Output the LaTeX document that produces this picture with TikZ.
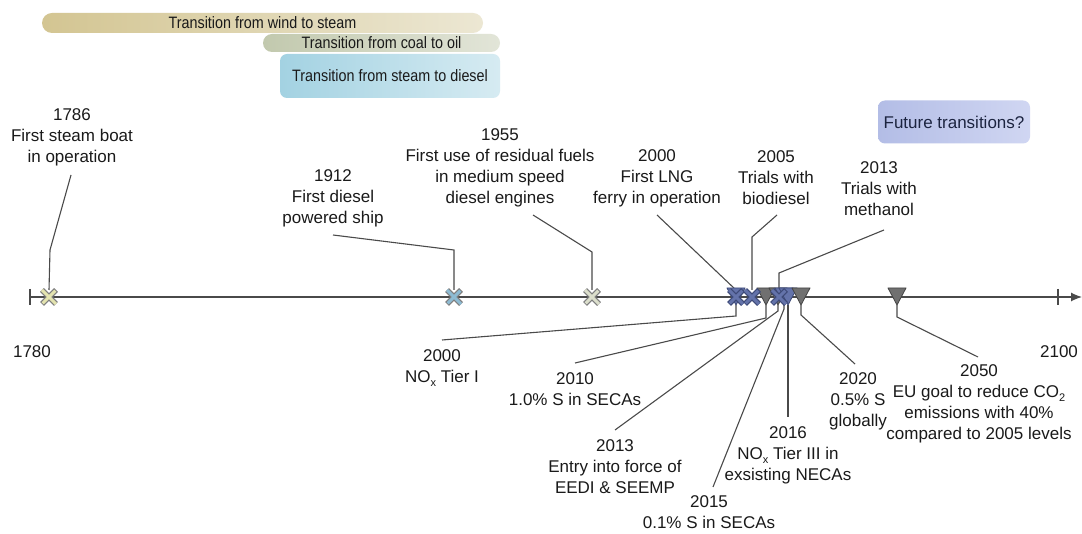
\documentclass[tikz,border=0pt]{standalone}
\usepackage{fontspec}
\setmainfont{Liberation Sans}
\newfontfamily\condfont{Liberation Sans}[FakeStretch=0.87]
\usetikzlibrary{arrows.meta,calc}
\definecolor{txt}{HTML}{1A1A1A}
\definecolor{lin}{HTML}{4A4A4A}
\definecolor{windA}{HTML}{D3C592}
\definecolor{windB}{HTML}{ECE7D3}
\definecolor{coalA}{HTML}{C2C9AE}
\definecolor{coalB}{HTML}{E2E5D8}
\definecolor{dieA}{HTML}{A3D2E2}
\definecolor{dieB}{HTML}{D6EBF2}
\definecolor{futA}{HTML}{B3BDE6}
\definecolor{futB}{HTML}{D0D6F2}
\definecolor{futT}{HTML}{1C2440}
\definecolor{xedge}{HTML}{7E7E7E}
\definecolor{xa}{HTML}{E4E4B0}
\definecolor{xb}{HTML}{8DBBD3}
\definecolor{xc}{HTML}{DCDFCC}
\definecolor{xblue}{HTML}{6473AA}
\definecolor{xbedge}{HTML}{3E4A78}
\definecolor{tgray}{HTML}{707070}
\definecolor{tgedge}{HTML}{444444}
\newcommand{\lsub}[1]{\raisebox{-0.25em}{\fontsize{11}{11}\selectfont #1}}
\newcommand{\XM}[4]{%
  \node[mk] (#1) at (#2,297) {};
  \draw[line width=5.5pt,draw=#4] (#1.north west)--(#1.south east) (#1.north east)--(#1.south west);
  \draw[line width=3pt,draw=#3,shorten >=1pt,shorten <=1pt] (#1.north west)--(#1.south east) (#1.north east)--(#1.south west);}
\newcommand{\TM}[4]{%
  \draw[fill=#3,draw=#4,line width=0.8pt,line join=round] ({#2-9},288)--({#2+9},288)--(#2,305)--cycle;
  \coordinate (#1) at (#2,305);}
\begin{document}
\begin{tikzpicture}[x=1pt,y=-1pt,
  lab/.style={align=center,font=\fontsize{17}{21}\selectfont,text=txt,inner sep=0pt},
  bar/.style={inner sep=0pt,text=txt,font=\condfont\fontsize{16.5}{19}\selectfont},
  conn/.style={draw=lin,line width=1.1pt},
  mk/.style={minimum size=14pt,inner sep=0pt,outer sep=0pt}]
\useasboundingbox[fill=white] (0,0) rectangle (1082,534);

% transition bars
\node[bar,left color=windA,right color=windB,minimum width=441pt,minimum height=20pt,rounded corners=10pt] (bw) at (262.5,23) {Transition from wind to steam};
\node[bar,left color=coalA,right color=coalB,minimum width=237pt,minimum height=18pt,rounded corners=9pt] (bc) at (381.5,43) {Transition from coal to oil};
\node[bar,left color=dieA,right color=dieB,minimum width=220pt,minimum height=44pt,rounded corners=7pt] (bd) at (390,76) {Transition from steam to diesel};
\node[bar,left color=futA,right color=futB,minimum width=152pt,minimum height=43pt,rounded corners=7pt,text=futT,font=\fontsize{17}{20}\selectfont] (bf) at (954,122) {Future transitions?};

% timeline
\coordinate (t0) at (30,297);
\coordinate (t1) at (1082,297);
\draw[conn,line width=1.2pt,-{Latex[length=11pt,width=9pt]}] (t0) -- (t1);
\draw[conn] (30,289) -- (30,305);
\draw[conn] (1058,289) -- (1058,305);
\node[lab] (y1780) at (32,352) {1780};
\node[lab] (y2100) at (1059,352) {2100};

% labels above
\node[lab] (l1786) at (72,137) {1786\\First steam boat\\in operation};
\node[lab] (l1912) at (333,198) {1912\\First diesel\\powered ship};
\node[lab] (l1955) at (500,168) {1955\\First use of residual fuels\\in medium speed\\diesel engines};
\node[lab] (l2000a) at (657,178) {2000\\First LNG\\ferry in operation};
\node[lab] (l2005) at (776,178) {2005\\Trials with\\biodiesel};
\node[lab] (l2013a) at (879,189) {2013\\Trials with\\methanol};

% labels below
\node[lab] (l2000b) at (442,368) {2000\\NO\lsub{x} Tier I};
\node[lab] (l2010) at (575,389.5) {2010\\1.0\% S in SECAs};
\node[lab] (l2013b) at (615,467) {2013\\Entry into force of\\EEDI \& SEEMP};
\node[lab] (l2015) at (709,512) {2015\\0.1\% S in SECAs};
\node[lab] (l2016) at (788,455) {2016\\NO\lsub{x} Tier III in\\exsisting NECAs};
\node[lab] (l2020) at (858,401) {2020\\0.5\% S\\globally};
\node[lab] (l2050) at (979,404) {2050\\EU goal to reduce CO\lsub{2}\\emissions with 40\%\\compared to 2005 levels};

% marker anchors
\node[mk] (m1786) at (49,297) {};
\node[mk] (m1912) at (454,297) {};
\node[mk] (m1955) at (592,297) {};
\node[mk] (m2000) at (736,297) {};
\node[mk] (m2005) at (752,297) {};
\node[mk] (m2013) at (779,297) {};

% connector end points
\coordinate (a1786) at (71,175);   \coordinate (b1786) at (50,250);
\coordinate (a1912) at (333,235);  \coordinate (b1912) at (454,250);
\coordinate (a1955) at (533,215);  \coordinate (b1955) at (592,252);
\coordinate (a2000) at (657,215);
\coordinate (a2005) at (777,215);  \coordinate (b2005) at (752,237);
\coordinate (a2013) at (884,230);  \coordinate (b2013) at (779,273);
\coordinate (c2000) at (442,340);  \coordinate (d2000) at (736,316);
\coordinate (c2010) at (575,363);  \coordinate (d2010) at (766,318);
\coordinate (c2013) at (615,430);  \coordinate (d2013) at (778,311);
\coordinate (c2015) at (713,487);  \coordinate (d2015) at (784,309);
\coordinate (c2016) at (788,417);
\coordinate (c2020) at (855,364);  \coordinate (d2020) at (801,315);
\coordinate (c2050) at (978,357);  \coordinate (d2050) at (897,317);
\coordinate (tt2000) at (736,305);
\coordinate (tt2010) at (766,305);
\coordinate (tt2013) at (778,305);
\coordinate (tt2015) at (784,305);
\coordinate (tt2016) at (788,305);
\coordinate (tt2020) at (801,305);
\coordinate (tt2050) at (897,305);

% connectors above
\draw[conn] (a1786) -- (b1786) -- (m1786.north);
\draw[conn] (a1912) -- (b1912) -- (m1912.north);
\draw[conn] (a1955) -- (b1955) -- (m1955.north);
\draw[conn] (a2000) -- (m2000.north);
\draw[conn] (a2005) -- (b2005) -- (m2005.north);
\draw[conn] (a2013) -- (b2013) -- (m2013.north);
% connectors below
\draw[conn] (tt2000) -- (d2000) -- (c2000);
\draw[conn] (tt2010) -- (d2010) -- (c2010);
\draw[conn] (tt2013) -- (d2013) -- (c2013);
\draw[conn] (tt2015) -- (d2015) -- (c2015);
\draw[conn] (tt2016) -- (c2016);
\draw[conn] (tt2020) -- (d2020) -- (c2020);
\draw[conn] (tt2050) -- (d2050) -- (c2050);

% triangles (regulations)
\TM{r2000}{736}{xblue}{xbedge}
\TM{r2010}{766}{tgray}{tgedge}
\TM{r2013}{778}{tgray}{tgedge}
\TM{r2015}{784}{xblue}{xbedge}
\TM{r2016}{788}{xblue}{xbedge}
\TM{r2020}{801}{tgray}{tgedge}
\TM{r2050}{897}{tgray}{tgedge}

% crosses (fuels)
\XM{x1786}{49}{xa}{xedge}
\XM{x1912}{454}{xb}{xedge}
\XM{x1955}{592}{xc}{xedge}
\XM{x2000}{736}{xblue}{xbedge}
\XM{x2005}{752}{xblue}{xbedge}
\XM{x2013}{779}{xblue}{xbedge}
\end{tikzpicture}
\end{document}
